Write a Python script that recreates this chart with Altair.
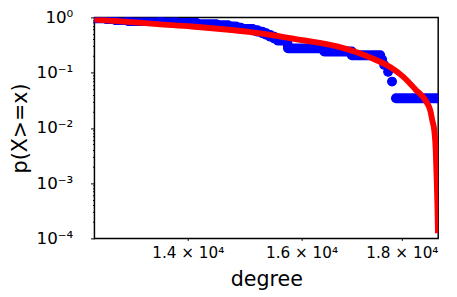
import altair as alt
import pandas as pd

N_NODES = 29
# CCDF plateaus: number of nodes with degree >= x, and the x-range of each plateau
blue_count = [29, 28, 27, 26, 25, 24, 23, 22, 21, 20, 19, 18, 17, 16, 15,
              14, 13, 12, 11, 10, 9, 8, 7, 6, 5, 4, 3, 2, 1]
blue_start = [12547, 12547, 12723, 12855, 13049, 13555, 13808, 14146, 14476, 14677,
              14813, 14899, 15107, 15194, 15282, 15352, 15423, 15495, 15566, 15738,
              15745, 15747, 16433, 16972, 17589, 17630, 17711, 17793, 17875]
blue_end = [12547, 12723, 12855, 13049, 13555, 13808, 14146, 14476, 14677, 14813,
            14899, 15107, 15194, 15282, 15352, 15423, 15495, 15566, 15729, 15738,
            15745, 16433, 16972, 17549, 17589, 17630, 17711, 17793, 18784]

# fitted curve (red)
red_x = [12547, 13049, 13508, 14065, 14644, 15072, 15512, 15819, 16058, 16681,
         17070, 17348, 17752, 18020, 18293, 18526, 18612, 18655, 18698, 18730,
         18751, 18769, 18778]
red_p = [0.921, 0.832, 0.757, 0.686, 0.604, 0.541, 0.469, 0.415, 0.382, 0.299,
         0.234, 0.187, 0.1265, 0.0858, 0.0493, 0.0296, 0.0205, 0.0136, 0.0090, 0.00398,
         0.00117, 0.00034, 0.00014]

x_ticks = [14000, 16000, 18000]
y_major = [1, 0.1, 0.01, 0.001, 0.0001]
y_minor = [k * 10.0 ** e for e in (-4, -3, -2, -1) for k in range(2, 10)]

blue_df = pd.DataFrame({
    "x1": blue_start,
    "x2": blue_end,
    "p": [c / N_NODES for c in blue_count],
})
red_df = pd.DataFrame({"x": red_x, "p": red_p})

FONT = "DejaVu Sans"
xscale = alt.Scale(type="log", domain=[12547, 18784], nice=False)
yscale = alt.Scale(type="log", domain=[0.0001, 1], nice=False)

xaxis = alt.Axis(
    values=x_ticks,
    labelExpr="datum.value == 14000 ? '1.4 × 10⁴' : datum.value == 16000 ? '1.6 × 10⁴' : '1.8 × 10⁴'",
    tickSize=2, tickColor="black", domain=False, grid=False,
    labelFont=FONT, labelFontSize=15.5, labelColor="black", labelPadding=5,
    title="degree", titleFont=FONT, titleFontSize=21, titleFontWeight="normal",
    titleColor="black", titlePadding=8,
)
yaxis = alt.Axis(
    values=y_major + y_minor,
    labelExpr=("datum.value == 1 ? '10⁰' : datum.value == 0.1 ? '10⁻¹' : "
               "datum.value == 0.01 ? '10⁻²' : datum.value == 0.001 ? '10⁻³' : "
               "datum.value == 0.0001 ? '10⁻⁴' : ''"),
    tickSize={"condition": {"test": "indexof([1, 0.1, 0.01, 0.001, 0.0001], datum.value) >= 0",
                            "value": 4}, "value": 2},
    tickColor="black", domain=False, grid=False, labelOverlap=False,
    labelFont=FONT, labelFontSize=17, labelColor="black", labelPadding=18,
    title="p(X>=x)", titleFont=FONT, titleFontSize=21, titleFontWeight="normal",
    titleColor="black", titlePadding=6,
)

BLUE = "#0000ff"
rules = alt.Chart(blue_df).mark_rule(color=BLUE, strokeWidth=10, strokeCap="round", clip=True).encode(
    x=alt.X("x1:Q", scale=xscale, axis=xaxis),
    x2="x2:Q",
    y=alt.Y("p:Q", scale=yscale, axis=yaxis),
)
dots1 = alt.Chart(blue_df).mark_circle(color=BLUE, size=80, opacity=1, clip=True).encode(
    x=alt.X("x1:Q", scale=xscale), y=alt.Y("p:Q", scale=yscale))
dots2 = alt.Chart(blue_df).mark_circle(color=BLUE, size=80, opacity=1, clip=True).encode(
    x=alt.X("x2:Q", scale=xscale), y=alt.Y("p:Q", scale=yscale))
red = alt.Chart(red_df).mark_line(color="#ff0000", strokeWidth=6, strokeCap="square",
                                  interpolate="monotone", clip=True).encode(
    x=alt.X("x:Q", scale=xscale), y=alt.Y("p:Q", scale=yscale))

chart = alt.layer(rules, dots1, dots2, red).properties(
    width=350, height=225,
    autosize="none",
    padding={"left": 88, "top": 7, "right": 11, "bottom": 54},
    background="white",
).configure_view(stroke="black", strokeWidth=1.5)

chart.save("out.html", embed_options={"renderer": "svg", "actions": False})
